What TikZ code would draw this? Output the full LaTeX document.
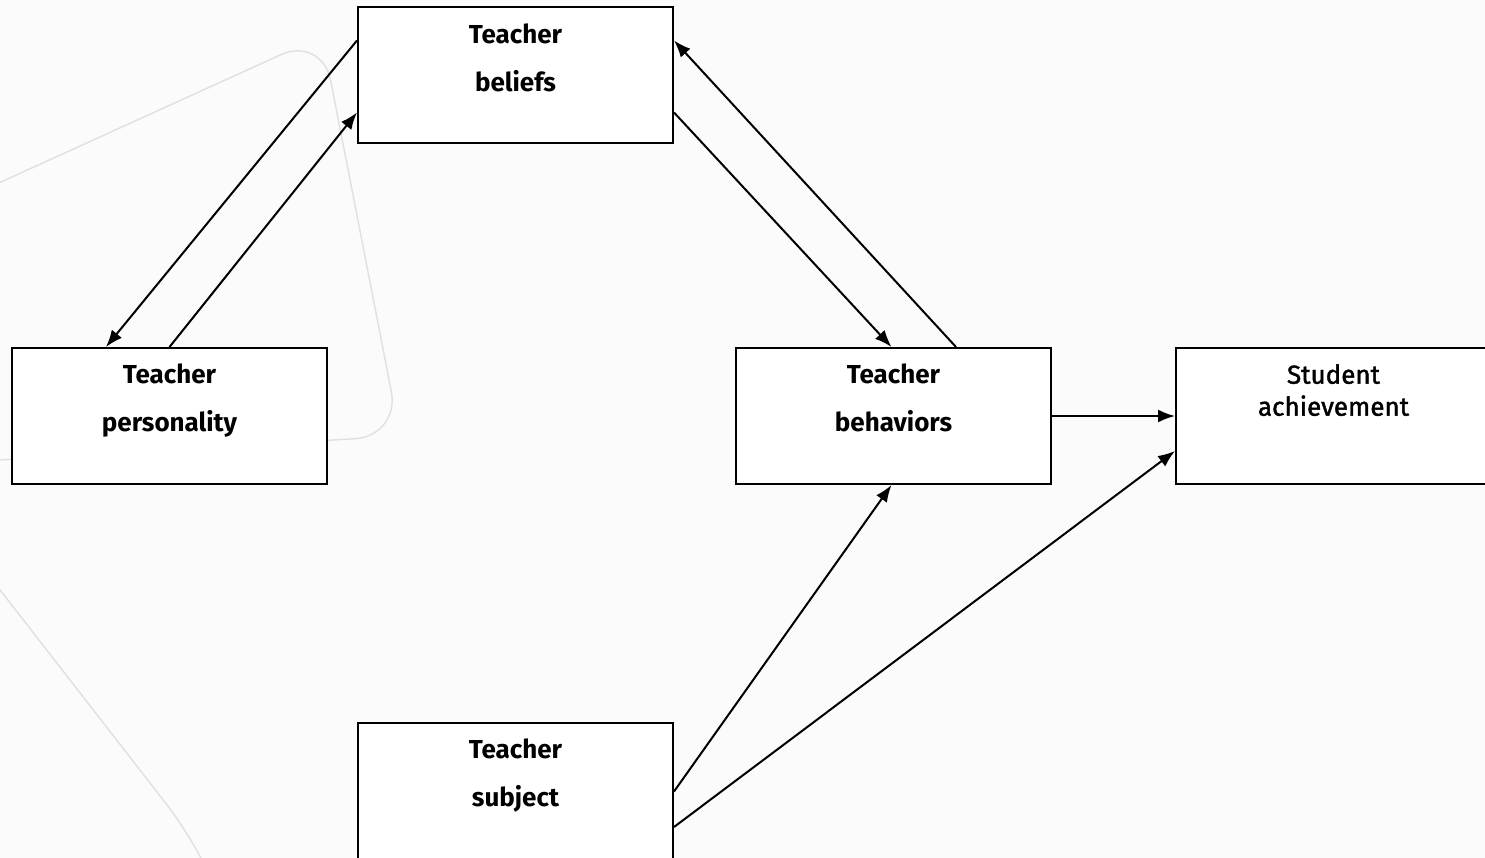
\documentclass[tikz,border=0pt]{standalone}
\usepackage{fontspec}
\setmainfont{Fira Sans}
\newfontfamily\stufont[FakeBold=1.6]{Fira Sans}
\usetikzlibrary{arrows.meta,calc}
\definecolor{bgcol}{HTML}{FBFBFB}
\definecolor{decocol}{HTML}{E0E0E0}
\tikzset{
  box/.style={draw=black, line width=2pt, fill=white, rectangle,
    minimum width=315pt, minimum height=136pt, inner sep=0pt, anchor=center},
  lbl/.style={anchor=north, inner sep=0pt, align=center,
    font=\fontsize{26}{48}\selectfont\bfseries},
  lblreg/.style={anchor=north, inner sep=0pt, align=center,
    font=\fontsize{26}{32}\selectfont\stufont},
  conn/.style={draw=black, line width=2pt, -{Latex[length=17pt,width=13pt]}},
  deco/.style={draw=decocol, line width=1.4pt, rounded corners=45pt},
}
\begin{document}
\begin{tikzpicture}[x=1pt,y=-1pt]
\useasboundingbox (0,0) rectangle (1485,858);
\fill[bgcol] (0,0) rectangle (1485,858);
% faint background shapes
\draw[deco] (-10,187) -- (322,36) -- (400,436) -- (0,460) -- (-20,461);
\draw[deco, rounded corners=30pt] (-10,577) -- (185,828) -- (215,885);
% boxes
\node[box] (beliefs) at (515.5,75.5) {};
\node[box] (personality) at (169.5,416) {};
\node[box] (behaviors) at (893.5,416) {};
\node[box] (achievement) at (1333.5,416) {};
\node[box, minimum height=137pt] (subject) at (515.5,791.5) {};
% labels
\node[lbl] (beliefs-t) at ([yshift=-17pt]beliefs.north) {Teacher\\beliefs};
\node[lbl] (personality-t) at ([yshift=-17pt]personality.north) {Teacher\\personality};
\node[lbl] (behaviors-t) at ([yshift=-17pt]behaviors.north) {Teacher\\behaviors};
\node[lblreg] (achievement-t) at ([yshift=-17pt]achievement.north) {Student\\achievement};
\node[lbl] (subject-t) at ([yshift=-17pt]subject.north) {Teacher\\subject};
% connectors
\draw[conn] ([yshift=-34pt]beliefs.north west) -- ([xshift=95pt]personality.north west);
\draw[conn] (personality.north) -- ([yshift=32pt]beliefs.south west);
\draw[conn] ([yshift=32pt]beliefs.south east) -- ([xshift=-2pt]behaviors.north);
\draw[conn] ([xshift=62.5pt]behaviors.north) -- ([yshift=-34pt]beliefs.north east);
\draw[conn] (behaviors.east) -- (achievement.west);
\draw[conn] (subject.east) -- ([xshift=-2pt]behaviors.south);
\draw[conn] ([yshift=34pt]subject.south east) -- ([yshift=34pt]achievement.south west);
\end{tikzpicture}
\end{document}
